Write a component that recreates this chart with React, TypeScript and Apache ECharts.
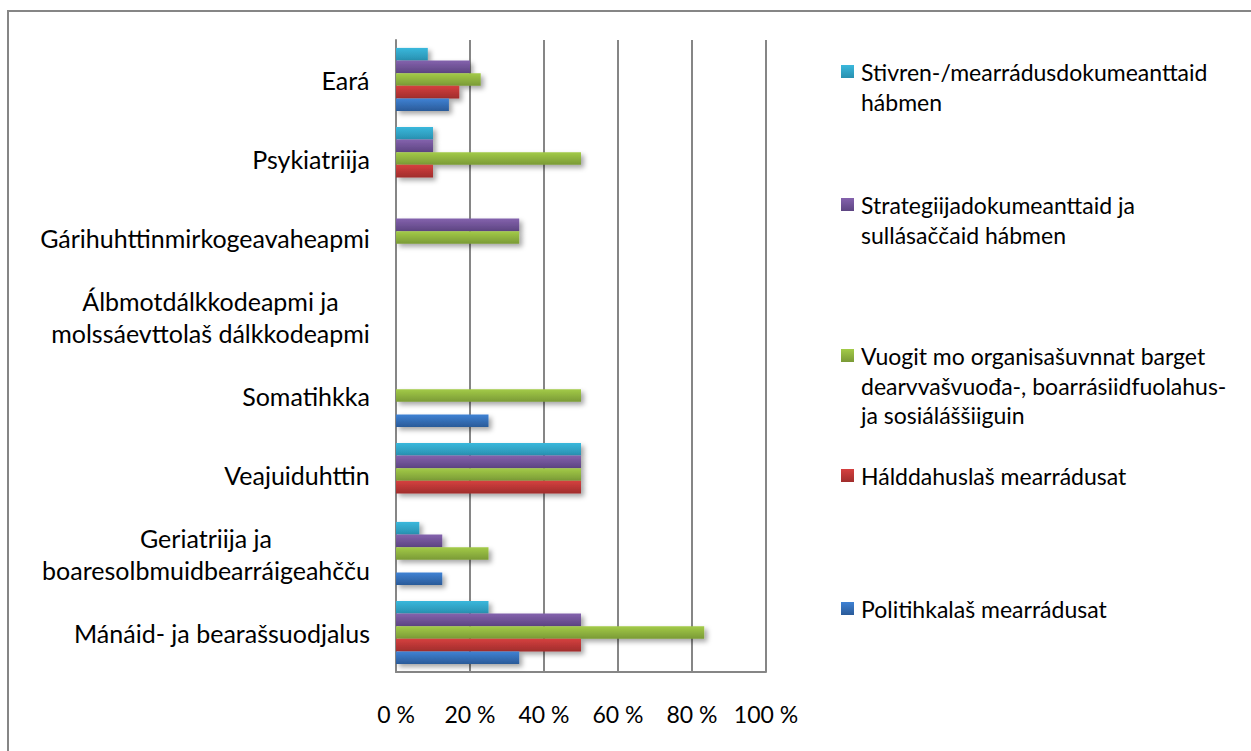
import React, { useEffect, useRef } from "react";
import * as echarts from "echarts";

const categories = [
  "Mánáid- ja bearašsuodjalus",
  "Geriatriija ja\nboaresolbmuidbearráigeahčču",
  "Veajuiduhttin",
  "Somatihkka",
  "Álbmotdálkkodeapmi ja\nmolssáevttolaš dálkkodeapmi",
  "Gárihuhttinmirkogeavaheapmi",
  "Psykiatriija",
  "Eará",
];

const politihkalas = [33.3, 12.5, 0, 25, 0, 0, 0, 14.3];
const halddahuslas = [50, 0, 50, 0, 0, 0, 10, 17.1];
const vuogit = [83.3, 25, 50, 50, 0, 33.3, 50, 22.9];
const strategiija = [50, 12.5, 50, 0, 0, 33.3, 10, 20];
const stivren = [25, 6.3, 50, 0, 0, 0, 10, 8.6];

const xTicks = [0, 20, 40, 60, 80, 100];

// listed top (first drawn at top of each group) to bottom
const seriesDefs = [
  { name: "Stivren-/mearrádusdokumeanttaid hábmen", legend: "Stivren-/mearrádusdokumeanttaid\nhábmen", data: stivren, top: "#3ab8dc", bottom: "#2890b0" },
  { name: "Strategiijadokumeanttaid ja sullásaččaid hábmen", legend: "Strategiijadokumeanttaid ja\nsullásaččaid hábmen", data: strategiija, top: "#8462ad", bottom: "#5d4582" },
  { name: "Vuogit mo organisašuvnnat barget dearvvašvuođa-, boarrásiidfuolahus- ja sosiáláššiiguin", legend: "Vuogit mo organisašuvnnat barget\ndearvvašvuođa-, boarrásiidfuolahus-\nja sosiáláššiiguin", data: vuogit, top: "#a3cb48", bottom: "#7a9a36" },
  { name: "Hálddahuslaš mearrádusat", legend: "Hálddahuslaš mearrádusat", data: halddahuslas, top: "#d5403f", bottom: "#a02d2c" },
  { name: "Politihkalaš mearrádusat", legend: "Politihkalaš mearrádusat", data: politihkalas, top: "#3f82d4", bottom: "#2a5a98" },
];

// first-line centre y of each legend entry, top to bottom
const legendY = [72, 205, 356, 476, 609];

const FONT = "Lato";
const FS = 23;
const FS_Y = 25;

function grad(top: string, bottom: string) {
  return new echarts.graphic.LinearGradient(0, 0, 0, 1, [
    { offset: 0, color: top },
    { offset: 1, color: bottom },
  ]);
}

export default function App() {
  const ref = useRef<HTMLDivElement>(null);
  useEffect(() => {
    if (!ref.current) return;
    const chart = echarts.init(ref.current, undefined, { renderer: "svg" });

    const canvas = document.createElement("canvas");
    const ctx = canvas.getContext("2d")!;
    ctx.font = `${FS_Y}px ${FONT}`;
    const rich: Record<string, any> = {};
    categories.forEach((c, i) => {
      const lines = c.split("\n");
      const w = Math.max(...lines.map((l) => ctx.measureText(l).width));
      rich["c" + i] = { width: Math.ceil(w), align: "center", fontFamily: FONT, fontSize: FS_Y, color: "#000", lineHeight: 32 };
    });

    const legendGraphics: any[] = [];
    seriesDefs.forEach((s, k) => {
      const y = legendY[k];
      legendGraphics.push({
        type: "rect",
        shape: { x: 841, y: y - 7, width: 13, height: 13 },
        style: { fill: grad(s.top, s.bottom) },
      });
      legendGraphics.push({
        type: "text",
        x: 861,
        y: y - 14.75,
        style: {
          text: s.legend,
          font: `${FS}px ${FONT}`,
          fill: "#000",
          lineHeight: 29.5,
          verticalAlign: "top",
          align: "left",
        },
      });
    });

    chart.setOption({
      animation: false,
      backgroundColor: "#fff",
      grid: { left: 396, top: 40, width: 370, height: 632 },
      xAxis: {
        type: "value",
        min: 0,
        max: 100,
        interval: 20,
        axisLine: { show: true, lineStyle: { color: "#868686", width: 2 } },
        axisTick: { show: false },
        splitLine: { show: true, lineStyle: { color: "#868686", width: 2 } },
        axisLabel: {
          margin: 30,
          fontFamily: FONT,
          fontSize: FS,
          color: "#000",
          formatter: (v: number) => (xTicks.includes(v) ? `${v} %` : ""),
        },
      },
      yAxis: {
        type: "category",
        data: categories,
        axisLine: { show: true, lineStyle: { color: "#868686", width: 2 } },
        axisTick: { show: false },
        axisLabel: {
          margin: 26,
          align: "right",
          fontFamily: FONT,
          fontSize: FS_Y,
          color: "#000",
          lineHeight: 32,
          rich,
          formatter: (v: string, i: number) =>
            v
              .split("\n")
              .map((l) => `{c${i}|${l}}`)
              .join("\n"),
        },
      },
      series: seriesDefs.map((s) => ({
        type: "bar",
        name: s.name,
        data: s.data.map((v) => (v === 0 ? "-" : v)),
        barCategoryGap: "20%",
        barGap: "0%",
        itemStyle: {
          color: grad(s.top, s.bottom),
          shadowBlur: 5,
          shadowColor: "rgba(0,0,0,0.35)",
          shadowOffsetX: 3,
          shadowOffsetY: 3,
        },
      })),
      graphic: [
        {
          type: "rect",
          shape: { x: 8, y: 11, width: 1300, height: 800 },
          style: { fill: "none", stroke: "#868686", lineWidth: 2 },
          silent: true,
        },
        ...legendGraphics,
      ],
    });
    return () => chart.dispose();
  }, []);
  return (
    <div
      ref={ref}
      style={{ position: "absolute", left: 0, top: 0, width: 1251, height: 751 }}
    />
  );
}
